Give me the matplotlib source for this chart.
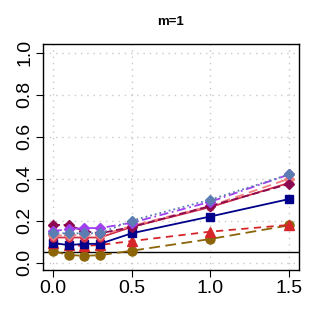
import matplotlib
matplotlib.use('Agg')
import matplotlib.pyplot as plt

plt.rcParams['font.family'] = ['Liberation Sans', 'DejaVu Sans']

x = [0, 0.1, 0.2, 0.3, 0.5, 1.0, 1.5]
purple = [0.15, 0.16, 0.165, 0.165, 0.19, 0.29, 0.42]
steel = [0.14, 0.14, 0.14, 0.14, 0.20, 0.30, 0.42]
maroon = [0.18, 0.18, 0.15, 0.14, 0.17, 0.27, 0.375]
coral = [0.13, 0.13, 0.135, 0.13, 0.175, 0.27, 0.40]
crimson = [0.12, 0.12, 0.12, 0.12, 0.17, 0.265, 0.38]
navy = [0.094, 0.084, 0.09, 0.09, 0.14, 0.22, 0.303]
red = [0.094, 0.085, 0.08, 0.085, 0.103, 0.148, 0.18]
olive = [0.056, 0.037, 0.033, 0.036, 0.057, 0.113, 0.178]
alpha_level = 0.05
xticks = [0, 0.5, 1.0, 1.5]
yticks = [0, 0.2, 0.4, 0.6, 0.8, 1.0]

fig = plt.figure(figsize=(3.21, 3.27), dpi=100)
ax = fig.add_axes([0.134, 0.174, 0.797, 0.691])

ax.axhline(alpha_level, color='black', lw=1.0, zorder=1)
ax.plot(x, olive, color='#8B6508', ls=(0, (6, 3)), lw=1.3, marker='o', ms=6.5)
ax.plot(x, red, color='#D7262A', ls=(0, (4, 3)), lw=1.3, marker='^', ms=7)
ax.plot(x, navy, color='#00008B', ls='-', lw=1.3, marker='s', ms=6)
ax.plot(x, crimson, color='#D0304A', ls='-', lw=1.3, marker='o', ms=5)
ax.plot(x, coral, color='#F08080', ls=(0, (5, 3)), lw=1.3, marker='D', ms=5)
ax.plot(x, maroon, color='#8B0A50', ls=(0, (4, 2)), lw=1.3, marker='D', ms=5)
ax.plot(x, purple, color='#A040F0', ls=(0, (5, 2, 1, 2)), lw=1.3, marker='D', ms=5)
ax.plot(x, steel, color='#5B7DB1', ls=':', lw=1.3, marker='D', ms=5.5)

ax.set_xlim(-0.062, 1.562)
ax.set_ylim(-0.035, 1.04)
ax.set_xticks(xticks)
ax.set_xticklabels(['0.0', '0.5', '1.0', '1.5'])
ax.set_yticks(yticks)
ax.set_yticklabels(['0.0', '0.2', '0.4', '0.6', '0.8', '1.0'], rotation=90, va='center')
ax.tick_params(labelsize=14, length=5, width=0.8, color='black', pad=2)
ax.grid(True, color='#C8C8C8', ls=(0, (1, 3.5)), lw=1.0)
for s in ax.spines.values():
    s.set_linewidth(1.0)
ax.set_title('m=1', fontsize=9.5, fontweight='bold', pad=14)

fig.savefig('out.png', dpi=100)
